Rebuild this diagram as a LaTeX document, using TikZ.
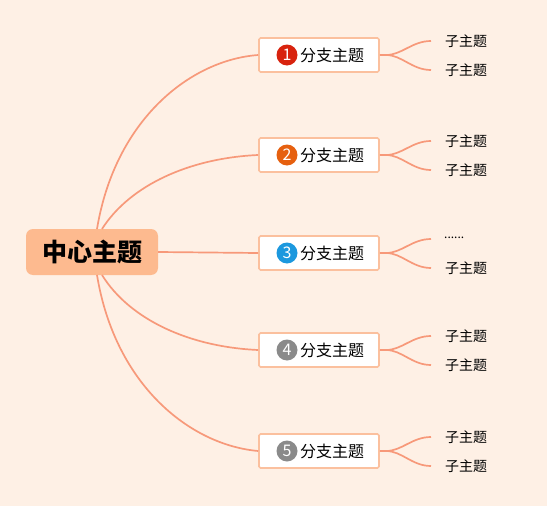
\documentclass[tikz,border=0pt]{standalone}
\usepackage{fontspec}
\newfontfamily\cjk{Noto Sans CJK SC}
\definecolor{bg}{HTML}{FEF0E5}
\definecolor{ln}{HTML}{F7997A}
\definecolor{ctr}{HTML}{FDBA8F}
\definecolor{bbd}{HTML}{FBC09E}
\definecolor{c1}{HTML}{D8230E}
\definecolor{c2}{HTML}{E6600F}
\definecolor{c3}{HTML}{1C98DE}
\definecolor{c4}{HTML}{8A8A8A}
\begin{document}
\begin{tikzpicture}[x=1pt,y=-1pt,
  conn/.style={draw=ln,line width=1.7pt},
  central/.style={fill=ctr,rounded corners=7pt,minimum width=132pt,minimum height=46pt,inner sep=0pt,font=\cjk\bfseries\fontsize{25}{25}\selectfont},
  branch/.style={draw=bbd,fill=white,line width=1.6pt,rounded corners=1.5pt,minimum width=120pt,minimum height=34pt,inner sep=0pt},
  num/.style={circle,inner sep=0pt,minimum size=21pt,text=white,font=\cjk\fontsize{16}{16}\selectfont},
  btext/.style={font=\cjk\fontsize{16}{16}\selectfont},
  sub/.style={anchor=west,inner sep=0pt,font=\cjk\fontsize{14}{14}\selectfont}]
\fill[bg] (0,0) rectangle (547,506);
\useasboundingbox (0,0) rectangle (547,506);

\node[central] (c) at (92,252) {中心主题};

\foreach \i/\y/\col in {1/55/c1,2/155/c2,3/253/c3,4/350/c4,5/451/c4}{
  \node[branch] (b\i) at (319,\y) {};
  \node[num,fill=\col] (n\i) at (287,\y) {\i};
  \node[btext,anchor=west,inner sep=0pt] (t\i) at (300,\y) {分支主题};
  \coordinate (j\i) at (386,\y);
  \coordinate (u\i) at (431,\y-14);
  \coordinate (d\i) at (431,\y+15);
  \draw[conn] (b\i.east) -- (j\i) .. controls (402,\y) and (412,\y-14) .. (u\i);
  \draw[conn] (j\i) .. controls (402,\y) and (412,\y+15) .. (d\i);
  \node[sub] (s\i b) at (445,\y+15) {子主题};
}
\node[sub] (s1a) at (445,41) {子主题};
\node[sub] (s2a) at (445,141) {子主题};
\node[sub,font=\cjk\fontsize{12}{12}\selectfont] (s3a) at (444,238) {......};
\node[sub] (s4a) at (445,336) {子主题};
\node[sub] (s5a) at (445,437) {子主题};

\coordinate (o1) at (97,229);
\coordinate (o2) at (102,229);
\coordinate (o4) at (102,275);
\coordinate (o5) at (97,275);
\draw[conn] (o1) .. controls (115,120) and (190,60) .. (b1.west);
\draw[conn] (o2) .. controls (130,185) and (190,158) .. (b2.west);
\draw[conn] (c.east) -- (b3.west);
\draw[conn] (o4) .. controls (130,320) and (190,347) .. (b4.west);
\draw[conn] (o5) .. controls (115,385) and (190,445) .. (b5.west);
\end{tikzpicture}
\end{document}
